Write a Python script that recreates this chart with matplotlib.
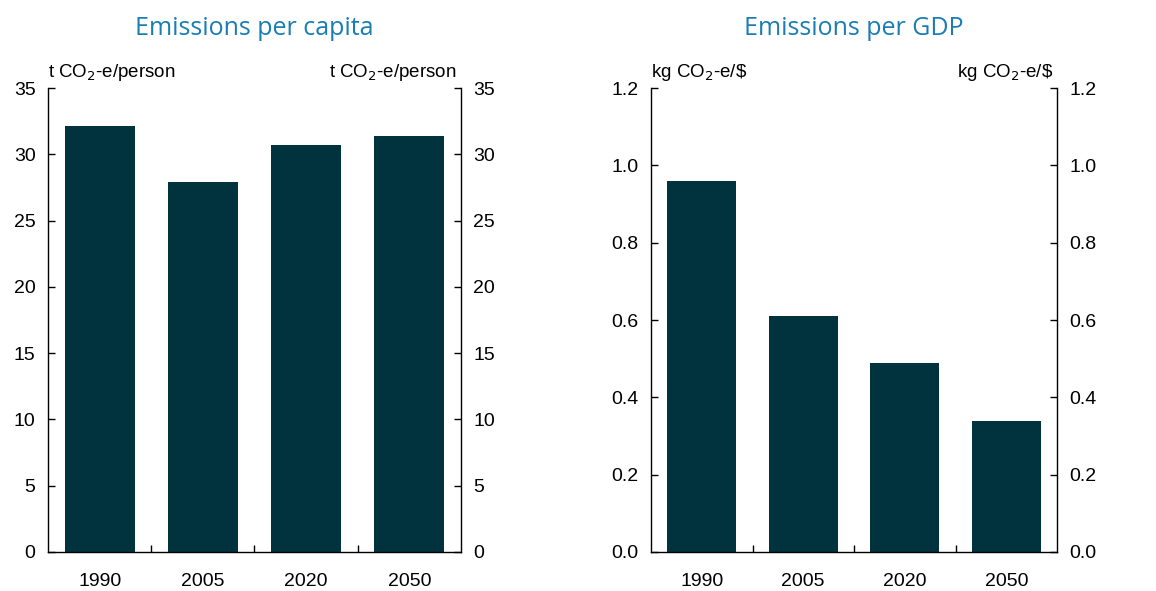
import numpy as np
import matplotlib
matplotlib.use("Agg")
import matplotlib.pyplot as plt
from matplotlib.ticker import FixedLocator

plt.rcParams['font.family'] = ['Liberation Sans', 'DejaVu Sans']

years = ['1990', '2005', '2020', '2050']
per_capita = [32.1, 27.9, 30.7, 31.4]
per_gdp = [0.96, 0.61, 0.49, 0.34]

bar_color = '#01333E'
title_color = '#1A7DB3'

fig = plt.figure(figsize=(11.56, 5.91), dpi=100)
ax1 = fig.add_axes([48 / 1156, 1 - 552 / 591, 413 / 1156, 464 / 591])
ax2 = fig.add_axes([651 / 1156, 1 - 552 / 591, 406 / 1156, 464 / 591])


def style(ax, vals, ymax, yticks, fmt, unit, title):
    x = np.arange(len(years))
    ax.bar(x, vals, width=0.68, color=bar_color)
    ax.set_xlim(-0.5, len(years) - 0.5)
    ax.set_ylim(0, ymax)
    ax.set_xticks(x)
    ax.set_xticklabels(years)
    ax.xaxis.set_minor_locator(FixedLocator(x[:-1] + 0.5))
    ax.tick_params(axis='x', which='major', length=0, pad=15, labelsize=14)
    ax.tick_params(axis='x', which='minor', direction='in', length=5, width=1)
    ax.set_yticks(yticks)
    ax.set_yticklabels([fmt.format(v) for v in yticks])
    ax.tick_params(axis='y', direction='in', length=5, width=1, pad=9,
                   labelsize=14, left=True, right=True,
                   labelleft=True, labelright=True)
    ax.spines['top'].set_visible(False)
    for s in ['left', 'right', 'bottom']:
        ax.spines[s].set_linewidth(1)
    ax.text(0, 1.01, unit, transform=ax.transAxes, fontsize=13.5,
            ha='left', va='bottom')
    ax.text(0.99, 1.01, unit, transform=ax.transAxes, fontsize=13.5,
            ha='right', va='bottom')
    ax.set_title(title, color=title_color, fontsize=18, pad=38,
                 family=['Open Sans', 'DejaVu Sans'])


style(ax1, per_capita, 35, np.arange(0, 36, 5), '{:.0f}',
      't CO$_2$-e/person', 'Emissions per capita')
style(ax2, per_gdp, 1.2, np.arange(0, 1.21, 0.2), '{:.1f}',
      'kg CO$_2$-e/\\$', 'Emissions per GDP')

fig.savefig('out.png', dpi=100)
